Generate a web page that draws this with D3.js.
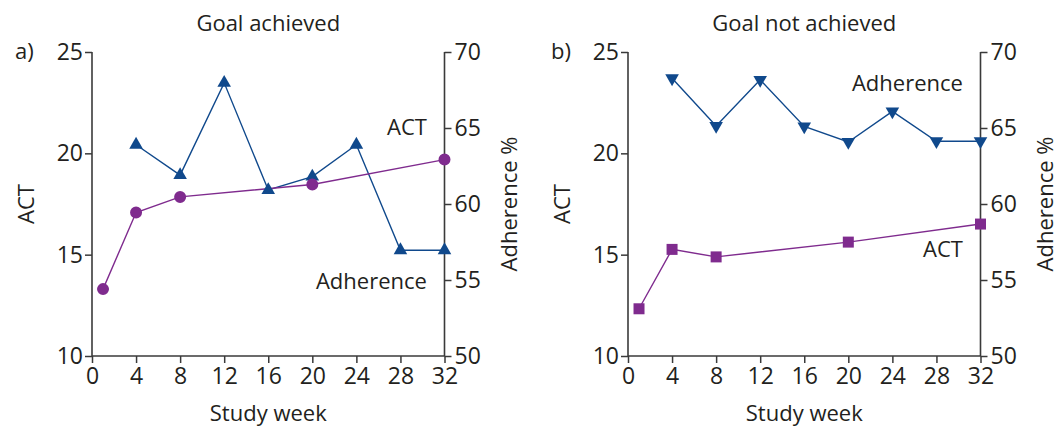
<!DOCTYPE html>
<html>
<head>
<meta charset="utf-8">
<script src="https://cdn.jsdelivr.net/npm/d3@7"></script>
<style>
  body { margin: 0; background: #fff; }
  svg text { font-family: "Open Sans", "Noto Sans", sans-serif; fill: #231f20; }
</style>
</head>
<body>
<div id="chart"></div>
<script>
// weeks and tick labels
var xTicks = [0, 4, 8, 12, 16, 20, 24, 28, 32];
var actTicks = [10, 15, 20, 25];
var adhTicks = [50, 55, 60, 65, 70];

// panel a) goal achieved
var achievedActWeeks = [1, 4, 8, 20, 32];
var achievedAct = [13.3, 17.08, 17.85, 18.46, 19.69];
var achievedAdhWeeks = [4, 8, 12, 16, 20, 24, 28, 32];
var achievedAdh = [63.9, 61.9, 67.97, 60.92, 61.8, 63.9, 56.96, 56.96];

// panel b) goal not achieved
var notActWeeks = [1, 4, 8, 20, 32];
var notAct = [12.33, 15.26, 14.89, 15.62, 16.51];
var notAdhWeeks = [4, 8, 12, 16, 20, 24, 28, 32];
var notAdh = [68.27, 65.13, 68.17, 65.1, 64.08, 66.09, 64.13, 64.13];

var purple = '#7f2b8e', blue = '#10498c', axisCol = '#3a3a3a';

var svg = d3.select('#chart').append('svg')
    .attr('width', 1060).attr('height', 427);

function panel(opt){
    var x = d3.scaleLinear().domain([0, 32]).range([opt.left, opt.left + 352.5]);
    var yA = d3.scaleLinear().domain([10, 25]).range([356, 52]);
    var yB = d3.scaleLinear().domain([50, 70]).range([356, 52]);
    var g = svg.append('g');

    // axes
    var ax = g.append('g').attr('transform', 'translate(0,356)')
        .call(d3.axisBottom(x).tickValues(xTicks).tickSize(7).tickPadding(5));
    var al = g.append('g').attr('transform', 'translate(' + opt.left + ',0)')
        .call(d3.axisLeft(yA).tickValues(actTicks).tickSize(7).tickPadding(2));
    var ar = g.append('g').attr('transform', 'translate(' + x(32) + ',0)')
        .call(d3.axisRight(yB).tickValues(adhTicks).tickSize(7).tickPadding(3));
    [ax, al, ar].forEach(function(a){
        a.select('.domain').attr('stroke', axisCol).attr('stroke-width', 1.6)
            .attr('d', a === ax ? 'M' + x(0) + ',0H' + x(32) : 'M0,356V52');
        a.selectAll('.tick line').attr('stroke', axisCol).attr('stroke-width', 1.5);
        a.selectAll('.tick text').style('font-size', '23px')
            .style('font-family', '"Open Sans", sans-serif').attr('fill', '#231f20');
    });

    // lines
    var lineA = d3.line().x(function(d){ return x(d[0]); }).y(function(d){ return yA(d[1]); });
    var lineB = d3.line().x(function(d){ return x(d[0]); }).y(function(d){ return yB(d[1]); });
    var actData = d3.zip(opt.actWeeks, opt.act);
    var adhData = d3.zip(opt.adhWeeks, opt.adh);

    g.append('path').attr('d', lineB(adhData)).attr('fill', 'none')
        .attr('stroke', blue).attr('stroke-width', 1.4);
    g.append('path').attr('d', lineA(actData)).attr('fill', 'none')
        .attr('stroke', purple).attr('stroke-width', 1.4);

    g.selectAll('.adh').data(adhData).enter().append('path')
        .attr('d', d3.symbol().type(d3.symbolTriangle).size(80))
        .attr('transform', function(d){
            return 'translate(' + x(d[0]) + ',' + yB(d[1]) + ')' + (opt.down ? ' rotate(180)' : ''); })
        .attr('fill', blue);
    g.selectAll('.act').data(actData).enter().append('path')
        .attr('d', d3.symbol().type(opt.square ? d3.symbolSquare : d3.symbolCircle).size(opt.square ? 121 : 113))
        .attr('transform', function(d){ return 'translate(' + x(d[0]) + ',' + yA(d[1]) + ')'; })
        .attr('fill', purple);

    // text
    g.append('text').attr('x', x(16)).attr('y', 31).attr('text-anchor', 'middle')
        .style('font-size', '22px').text(opt.title);
    g.append('text').attr('x', opt.left - 77).attr('y', 59)
        .style('font-size', '22px').text(opt.tag);
    g.append('text').attr('x', x(16)).attr('y', 421).attr('text-anchor', 'middle')
        .style('font-size', '22px').text('Study week');
    g.append('text').attr('transform', 'translate(' + (opt.left - 58) + ',204) rotate(-90)')
        .attr('text-anchor', 'middle').style('font-size', '22px').text('ACT');
    g.append('text').attr('transform', 'translate(' + (x(32) + 72) + ',204) rotate(-90)')
        .attr('text-anchor', 'middle').style('font-size', '22px').text('Adherence %');

    opt.labels.forEach(function(l){
        g.append('text').attr('x', x(l[1])).attr('y', yA(l[2])).attr('text-anchor', 'end')
            .style('font-size', '22px').text(l[0]);
    });
}

panel({left: 92, title: 'Goal achieved', tag: 'a)',
    actWeeks: achievedActWeeks, act: achievedAct,
    adhWeeks: achievedAdhWeeks, adh: achievedAdh,
    down: false, square: false,
    labels: [['ACT', 30.4, 20.9], ['Adherence', 30.4, 13.3]]});
panel({left: 628, title: 'Goal not achieved', tag: 'b)',
    actWeeks: notActWeeks, act: notAct,
    adhWeeks: notAdhWeeks, adh: notAdh,
    down: true, square: true,
    labels: [['Adherence', 30.4, 23.1], ['ACT', 30.4, 14.9]]});
</script>
</body>
</html>
